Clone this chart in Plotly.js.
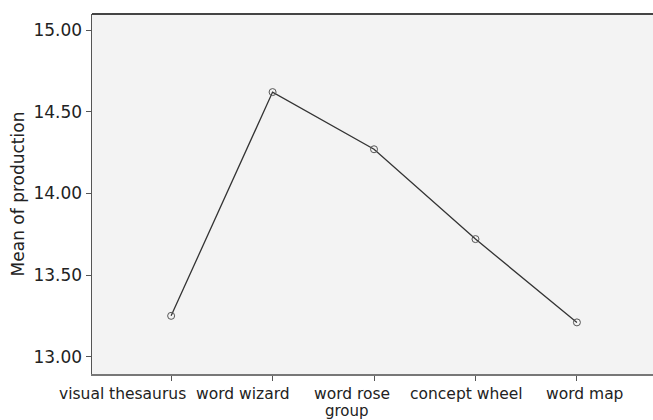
<!DOCTYPE html>
<html>
<head>
<meta charset="utf-8">
<script src="https://cdn.plot.ly/plotly-3.0.1.min.js"></script>
<style>
  html, body { margin: 0; padding: 0; background: #fff; }
  #plot { width: 653px; height: 420px; }
</style>
</head>
<body>
<div id="plot"></div>
<script>
// mean production per group
var groups = ['visual thesaurus', 'word wizard', 'word rose', 'concept wheel', 'word map'];
var means = [13.25, 14.62, 14.27, 13.72, 13.21];
var yTicks = [13.0, 13.5, 14.0, 14.5, 15.0];
var yTickText = ['13.00', '13.50', '14.00', '14.50', '15.00'];

// SPSS spreads the category labels so they don't collide
var labelShift = [-49, -30, -22, -9, 8];

var trace = {
  x: groups,
  y: means,
  type: 'scatter',
  mode: 'lines+markers',
  line: {color: '#333333', width: 1.3},
  marker: {symbol: 'circle-open', size: 7, color: '#555555', line: {width: 1}},
  hoverinfo: 'x+y'
};

var txt = {family: 'DejaVu Sans, sans-serif', size: 15.5, color: '#222222'};

var annotations = groups.map(function (g, i) {
  return {
    x: g, xref: 'x', y: 0, yref: 'paper',
    text: g, showarrow: false, borderpad: 0,
    xanchor: 'center', yanchor: 'middle',
    xshift: labelShift[i], yshift: -20,
    font: txt
  };
});
annotations.push({
  x: 0.4545, xref: 'paper', y: 0, yref: 'paper',
  text: 'group', showarrow: false, borderpad: 0,
  xanchor: 'center', yanchor: 'middle', yshift: -37,
  font: {family: txt.family, size: 15, color: txt.color}
});

var layout = {
  width: 653,
  height: 420,
  margin: {l: 92, r: 0, t: 14, b: 46},
  paper_bgcolor: '#ffffff',
  plot_bgcolor: '#f3f3f3',
  font: {family: 'DejaVu Sans, sans-serif', color: '#222222'},
  showlegend: false,
  xaxis: {
    type: 'category',
    range: [-0.78, 4.75],
    showgrid: false,
    zeroline: false,
    showline: true,
    linecolor: '#777777',
    linewidth: 1.5,
    ticks: 'outside',
    ticklen: 5,
    tickcolor: '#555555',
    showticklabels: false
  },
  yaxis: {
    range: [12.894, 15.098],
    tickvals: yTicks,
    ticktext: yTickText,
    showgrid: false,
    zeroline: false,
    showline: true,
    linecolor: '#555555',
    linewidth: 1.5,
    ticks: 'outside',
    ticklen: 5,
    tickcolor: '#555555',
    tickfont: {size: 17, color: '#222222'},
    title: {text: 'Mean of production', font: {size: 17, color: '#222222'}, standoff: 4}
  },
  annotations: annotations,
  shapes: [{
    type: 'line', xref: 'paper', yref: 'paper',
    x0: 0, x1: 1, y0: 1, y1: 1,
    line: {color: '#444444', width: 2}
  }]
};

Plotly.newPlot('plot', [trace], layout, {displayModeBar: false, staticPlot: true});
</script>
</body>
</html>
